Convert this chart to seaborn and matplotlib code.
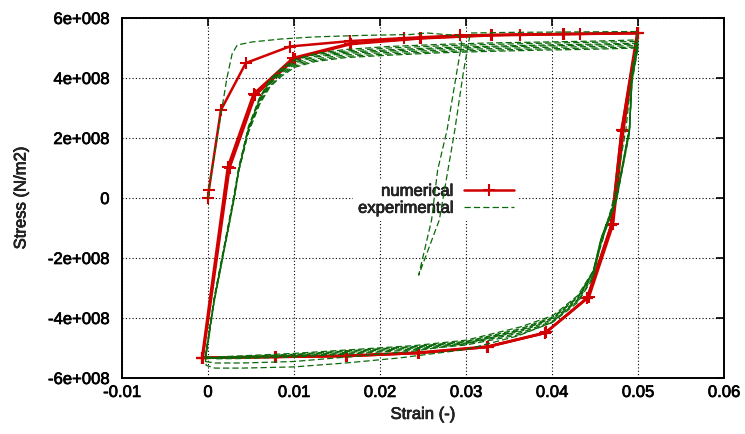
import numpy as np
import pandas as pd
import matplotlib
matplotlib.use("Agg")
import matplotlib.pyplot as plt
import matplotlib.patheffects as pe
import seaborn as sns

# ---------------------------------------------------------------------------
# Cyclic stress-strain data (stress given in units of 1e8 N/m2)
# ---------------------------------------------------------------------------
# Numerical model: first cycle including the virgin loading branch
num_strain_1 = [0.0, 0.0001, 0.0015, 0.0044, 0.0095, 0.0165, 0.0228, 0.0293, 0.0363,
                0.0433, 0.0500, 0.0481, 0.0469, 0.0441, 0.0392, 0.0324, 0.0244,
                0.0161, 0.0078, -0.0007]
num_stress_1 = [0.0, 0.27, 2.93, 4.50, 5.05, 5.23, 5.33, 5.42, 5.45,
                5.47, 5.50, 2.27, -0.90, -3.33, -4.50, -4.97, -5.17,
                -5.27, -5.30, -5.33]
# Numerical model: stabilised cycles
num_strain_2 = [-0.0007, 0.0023, 0.0053, 0.0099, 0.0165, 0.0247, 0.0329, 0.0413, 0.0499,
                0.0481, 0.0469, 0.0441, 0.0392, 0.0324, 0.0244, 0.0161, 0.0078, -0.0007]
num_stress_2 = [-5.33, 1.03, 3.47, 4.67, 5.15, 5.33, 5.43, 5.47, 5.50,
                2.27, -0.90, -3.33, -4.50, -4.97, -5.17, -5.27, -5.30, -5.33]
num_strain_3 = [-0.0006, 0.0025, 0.0055, 0.0101, 0.0166, 0.0248, 0.0330, 0.0414, 0.0500,
                0.0483, 0.0471, 0.0443, 0.0393, 0.0325, 0.0245, 0.0162, 0.0079, -0.0006]
num_stress_3 = [-5.32, 1.00, 3.43, 4.64, 5.13, 5.32, 5.42, 5.46, 5.49,
                2.25, -0.88, -3.30, -4.48, -4.95, -5.15, -5.25, -5.29, -5.32]

# Experimental test: first cycle with the intermediate unload/reload near 3 %
exp_strain_0 = [0.0, 0.0001, 0.0014, 0.0022, 0.0028, 0.0034, 0.0051, 0.0085, 0.0124,
                0.0180, 0.0235, 0.0255, 0.0275, 0.0291, 0.0295, 0.0278, 0.0267,
                0.0260, 0.0245, 0.0269, 0.0279, 0.0287, 0.0297, 0.0305, 0.0350,
                0.0400, 0.0450, 0.0500, 0.0493, 0.0486, 0.0472, 0.0459, 0.0447,
                0.0430, 0.0400, 0.0360, 0.0300, 0.0223, 0.0160, 0.0100, 0.0040,
                0.0008, -0.0002, -0.0003]
exp_stress_0 = [0.0, 0.27, 2.60, 4.00, 4.80, 5.10, 5.20, 5.30, 5.37,
                5.42, 5.45, 5.50, 5.45, 5.42, 5.17, 2.27, 0.93,
                -0.73, -2.57, -0.73, 0.93, 2.27, 4.20, 5.50, 5.52,
                5.53, 5.54, 5.55, 4.20, 2.30, 0.00, -1.40, -2.50,
                -3.40, -4.15, -4.60, -5.05, -5.33, -5.50, -5.63, -5.67,
                -5.67, -5.58, -5.45]

# Experimental test: following cycles, loading branch (shared strain stations)
exp_up_strain = [-0.0003, 0.0007, 0.0030, 0.0036, 0.0047, 0.0060, 0.0072, 0.0085, 0.0101,
                 0.0125, 0.0160, 0.0210, 0.0270, 0.0330, 0.0390, 0.0450, 0.0500]
exp_up_stress_1 = [-5.45, -3.50, -0.10, 0.95, 2.30, 3.30, 3.90, 4.30, 4.62,
                   4.82, 4.95, 5.05, 5.12, 5.17, 5.20, 5.23, 5.27]
exp_up_stress_2 = [-5.38, -3.35, 0.05, 1.05, 2.38, 3.35, 3.95, 4.30, 4.60,
                   4.78, 4.90, 5.00, 5.07, 5.12, 5.16, 5.19, 5.22]
exp_up_stress_3 = [-5.35, -3.38, 0.02, 1.02, 2.33, 3.30, 3.90, 4.24, 4.54,
                   4.73, 4.86, 4.94, 5.01, 5.06, 5.10, 5.13, 5.16]
exp_up_stress_4 = [-5.33, -3.40, 0.00, 1.00, 2.30, 3.27, 3.85, 4.20, 4.50,
                   4.70, 4.82, 4.90, 4.98, 5.03, 5.07, 5.10, 5.13]
exp_up_stress_5 = [-5.30, -3.42, -0.03, 0.97, 2.26, 3.22, 3.80, 4.15, 4.45,
                   4.64, 4.77, 4.85, 4.93, 4.98, 5.02, 5.05, 5.08]
exp_up_stress_6 = [-5.28, -3.45, -0.05, 0.94, 2.22, 3.17, 3.74, 4.10, 4.40,
                   4.59, 4.72, 4.80, 4.88, 4.93, 4.97, 5.00, 5.03]
exp_up_stress_7 = [-5.26, -3.47, -0.07, 0.92, 2.18, 3.12, 3.70, 4.05, 4.36,
                   4.55, 4.68, 4.76, 4.84, 4.89, 4.93, 4.96, 5.00]

# Experimental test: following cycles, unloading branch (shared strain stations)
exp_down_strain = [0.0500, 0.0493, 0.0490, 0.0475, 0.0457, 0.0448, 0.0430, 0.0401, 0.0363,
                   0.0300, 0.0240, 0.0170, 0.0100, 0.0040, 0.0008, -0.0003]
exp_down_stress_1 = [5.27, 4.10, 2.30, 0.05, -1.35, -2.45, -3.30, -4.00, -4.42,
                     -4.85, -5.10, -5.28, -5.45, -5.50, -5.50, -5.45]
exp_down_stress_2 = [5.22, 4.10, 2.35, 0.05, -1.35, -2.42, -3.25, -3.92, -4.30,
                     -4.74, -4.92, -5.05, -5.18, -5.26, -5.30, -5.38]
exp_down_stress_3 = [5.16, 4.05, 2.30, 0.02, -1.38, -2.46, -3.30, -3.97, -4.36,
                     -4.78, -4.95, -5.08, -5.21, -5.28, -5.32, -5.35]
exp_down_stress_4 = [5.13, 4.00, 2.27, 0.00, -1.40, -2.50, -3.33, -4.00, -4.40,
                     -4.80, -4.97, -5.10, -5.23, -5.30, -5.33, -5.33]
exp_down_stress_5 = [5.08, 3.95, 2.22, -0.03, -1.43, -2.55, -3.38, -4.05, -4.45,
                     -4.83, -5.00, -5.13, -5.25, -5.31, -5.34, -5.30]
exp_down_stress_6 = [5.03, 3.90, 2.18, -0.06, -1.46, -2.60, -3.43, -4.10, -4.50,
                     -4.86, -5.03, -5.16, -5.27, -5.33, -5.35, -5.28]
exp_down_stress_7 = [5.00, 3.85, 2.15, -0.08, -1.50, -2.65, -3.48, -4.14, -4.55,
                     -4.90, -5.06, -5.19, -5.30, -5.35, -5.36, -5.26]

# Axis ticks and labels
x_ticks = [-0.01, 0.0, 0.01, 0.02, 0.03, 0.04, 0.05, 0.06]
x_tick_labels = ["-0.01", "0", "0.01", "0.02", "0.03", "0.04", "0.05", "0.06"]
y_ticks = [-6e8, -4e8, -2e8, 0.0, 2e8, 4e8, 6e8]
y_tick_labels = ["-6e+008", "-4e+008", "-2e+008", "0", "2e+008", "4e+008", "6e+008"]

STRESS_UNIT = 1e8

# ---------------------------------------------------------------------------
# Tables
# ---------------------------------------------------------------------------
def cycle_frame(cycles):
    parts = []
    for i, (s, p) in enumerate(cycles):
        parts.append(pd.DataFrame({"strain": s,
                                   "stress": np.asarray(p) * STRESS_UNIT,
                                   "cycle": i}))
    return pd.concat(parts, ignore_index=True)


num_df = cycle_frame([(num_strain_1, num_stress_1),
                      (num_strain_2, num_stress_2),
                      (num_strain_3, num_stress_3)])

exp_cycles = [(exp_strain_0, exp_stress_0)]
for up, down in [(exp_up_stress_1, exp_down_stress_1),
                 (exp_up_stress_2, exp_down_stress_2),
                 (exp_up_stress_3, exp_down_stress_3),
                 (exp_up_stress_4, exp_down_stress_4),
                 (exp_up_stress_5, exp_down_stress_5),
                 (exp_up_stress_6, exp_down_stress_6),
                 (exp_up_stress_7, exp_down_stress_7)]:
    exp_cycles.append((exp_up_strain + exp_down_strain, up + down))
exp_df = cycle_frame(exp_cycles)

# ---------------------------------------------------------------------------
# Figure
# ---------------------------------------------------------------------------
sns.set_style("white")
plt.rcParams["font.family"] = ["Liberation Sans", "DejaVu Sans"]
plt.rcParams["font.size"] = 12

RED = "#d00000"
GREEN = "#0a6a0a"
text_fx = [pe.withStroke(linewidth=0.5, foreground="black")]

fig = plt.figure(figsize=(7.45, 4.34), dpi=100)
ax = fig.add_axes([122 / 745, 56 / 434, 602 / 745, 360 / 434])

sns.lineplot(data=num_df, x="strain", y="stress", units="cycle", estimator=None,
             sort=False, color=RED, linewidth=1.8, marker="+", markersize=9,
             markeredgewidth=1.5, markeredgecolor=RED, ax=ax, legend=False, zorder=3)
n_num = len(ax.lines)
sns.lineplot(data=exp_df, x="strain", y="stress", units="cycle", estimator=None,
             sort=False, color=GREEN, linewidth=0.9, ax=ax, legend=False, zorder=4)
for ln in ax.lines[n_num:]:
    ln.set_dashes((5, 2.5))

ax.set_xlim(-0.01, 0.06)
ax.set_ylim(-6e8, 6e8)
ax.set_xticks(x_ticks)
ax.set_xticklabels(x_tick_labels)
ax.set_yticks(y_ticks)
ax.set_yticklabels(y_tick_labels)

ax.grid(True, color="black", linestyle=(0, (1, 2)), linewidth=0.8)
ax.set_axisbelow(True)
ax.tick_params(direction="in", length=6, width=1.2, top=True, right=True,
               labelsize=12, colors="black")
ax.tick_params(axis="y", pad=9)
ax.tick_params(axis="x", pad=5)
for sp in ax.spines.values():
    sp.set_color("black")
    sp.set_linewidth(1.4)

ax.set_xlabel("Strain (-)", fontsize=12, labelpad=5)
ax.set_ylabel("Stress (N/m2)", fontsize=12, labelpad=14)

leg = ax.legend(handles=[ax.lines[0], ax.lines[n_num]],
                labels=["numerical", "experimental"],
                loc="center left", bbox_to_anchor=(0.37, 0.495),
                markerfirst=False, frameon=True, fancybox=False,
                handlelength=3.0, handletextpad=0.6, labelspacing=0.12,
                borderpad=0.3, fontsize=12)
leg.get_frame().set_facecolor("white")
leg.get_frame().set_edgecolor("none")
leg.get_frame().set_alpha(1.0)
leg.set_zorder(2.5)
for t in leg.get_texts():
    t.set_ha("right")

for t in (ax.get_xticklabels() + ax.get_yticklabels() + leg.get_texts()
          + [ax.xaxis.label, ax.yaxis.label]):
    t.set_path_effects(text_fx)

fig.savefig("out.png", dpi=100)
